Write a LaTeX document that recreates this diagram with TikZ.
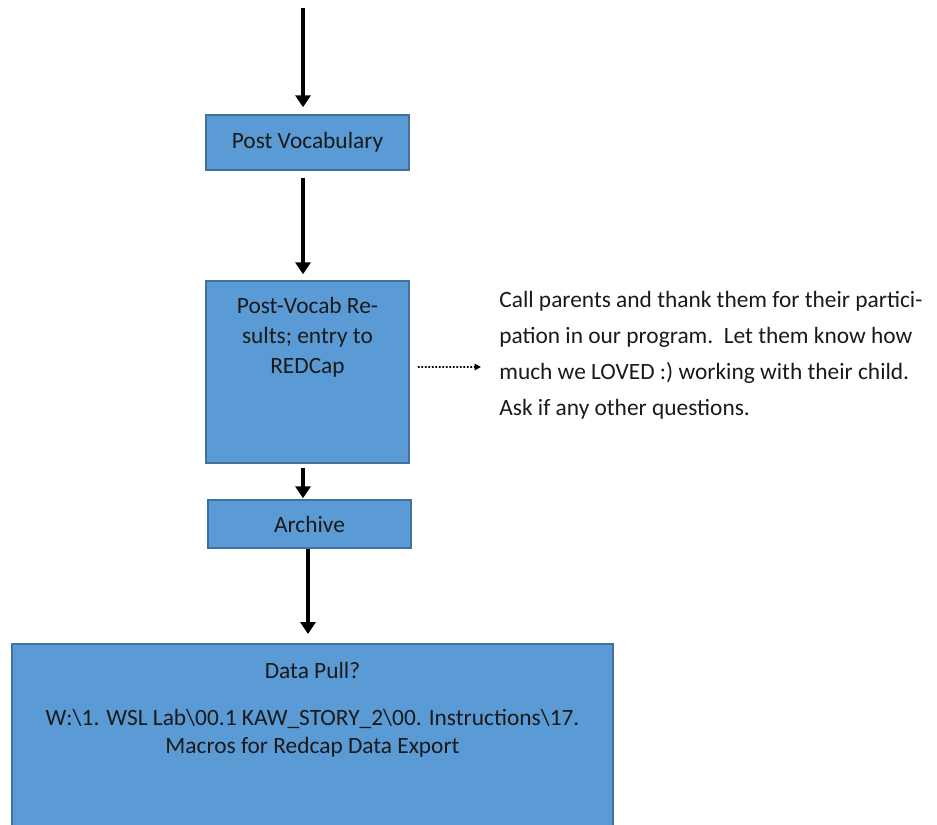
\documentclass[tikz,border=0pt]{standalone}
\usepackage{fontspec}
\setmainfont{Carlito}
\usetikzlibrary{arrows.meta,positioning}
\definecolor{boxblue}{HTML}{5B9BD5}
\definecolor{boxedge}{HTML}{41719C}
\definecolor{txtdark}{HTML}{1A1A1A}
\tikzset{
  box/.style={draw=boxedge, line width=0.85pt, fill=boxblue, align=center, text=txtdark, inner sep=0pt},
  boxtext/.style={align=center, text=txtdark, inner sep=0pt},
  note/.style={align=left, text=txtdark, inner sep=0pt, font=\fontsize{13.3}{20.5}\selectfont},
  arr/.style={-{Triangle[length=2.4mm, width=3mm]}, line width=2.2pt},
  dotarr/.style={-{Triangle[length=1.3mm, width=1.3mm]}, line width=1pt, dash pattern=on 1pt off 1pt},
}

\begin{document}
\begin{tikzpicture}[font=\fontsize{13.3}{17}\selectfont]
    \clip (0,0) rectangle (18.74,-16.48);
    \node[box, minimum width=4.06cm, minimum height=1.1cm] (pv) at (6.15,-2.85) {Post Vocabulary};
    \node[box, minimum width=4.06cm, minimum height=3.64cm] (vr) at (6.15,-7.44) {};
    \node[boxtext, below=0.34cm of vr.north] (vrt) {Post-Vocab Re-\\sults; entry to\\REDCap};
    \node[box, minimum width=4.06cm, minimum height=0.96cm] (ar) at (6.19,-10.48) {Archive};
    \node[box, minimum width=12.02cm, minimum height=4.2cm, anchor=north] (dp) at (6.25,-12.86) {};
    \node[boxtext, below=0.38cm of dp.north, font=\fontsize{13.3}{16}\selectfont] (dpt)
      {Data Pull?\\[0.38cm]W:\textbackslash1. WSL Lab\textbackslash00.1 KAW\_STORY\_2\textbackslash00. Instructions\textbackslash17.\\Macros for Redcap Data Export};
    \node[note, anchor=west] (call) at (9.98,-7.11)
      {Call parents and thank them for their partici-\\pation in our program.\ \ Let them know how\\much we LOVED :) working with their child.\\Ask if any other questions.};
    \coordinate (start) at (6.06,-0.16);
    \draw[arr, shorten >=0.14cm] (start) -- ([xshift=-0.09cm]pv.north);
    \draw[arr, shorten <=0.14cm, shorten >=0.12cm] ([xshift=-0.09cm]pv.south) -- ([xshift=-0.09cm]vr.north);
    \draw[arr, shorten <=0.08cm, shorten >=0.02cm] ([xshift=-0.09cm]vr.south) -- ([xshift=-0.13cm]ar.north);
    \draw[arr, shorten >=0.18cm] ([xshift=-0.03cm]ar.south) -- ([xshift=-0.03cm]ar.south |- dp.north);
    \draw[dotarr] ([xshift=0.16cm, yshift=0.1cm]vr.east) -- ([xshift=-0.36cm, yshift=-0.23cm]call.west);
  \end{tikzpicture}
\end{document}
